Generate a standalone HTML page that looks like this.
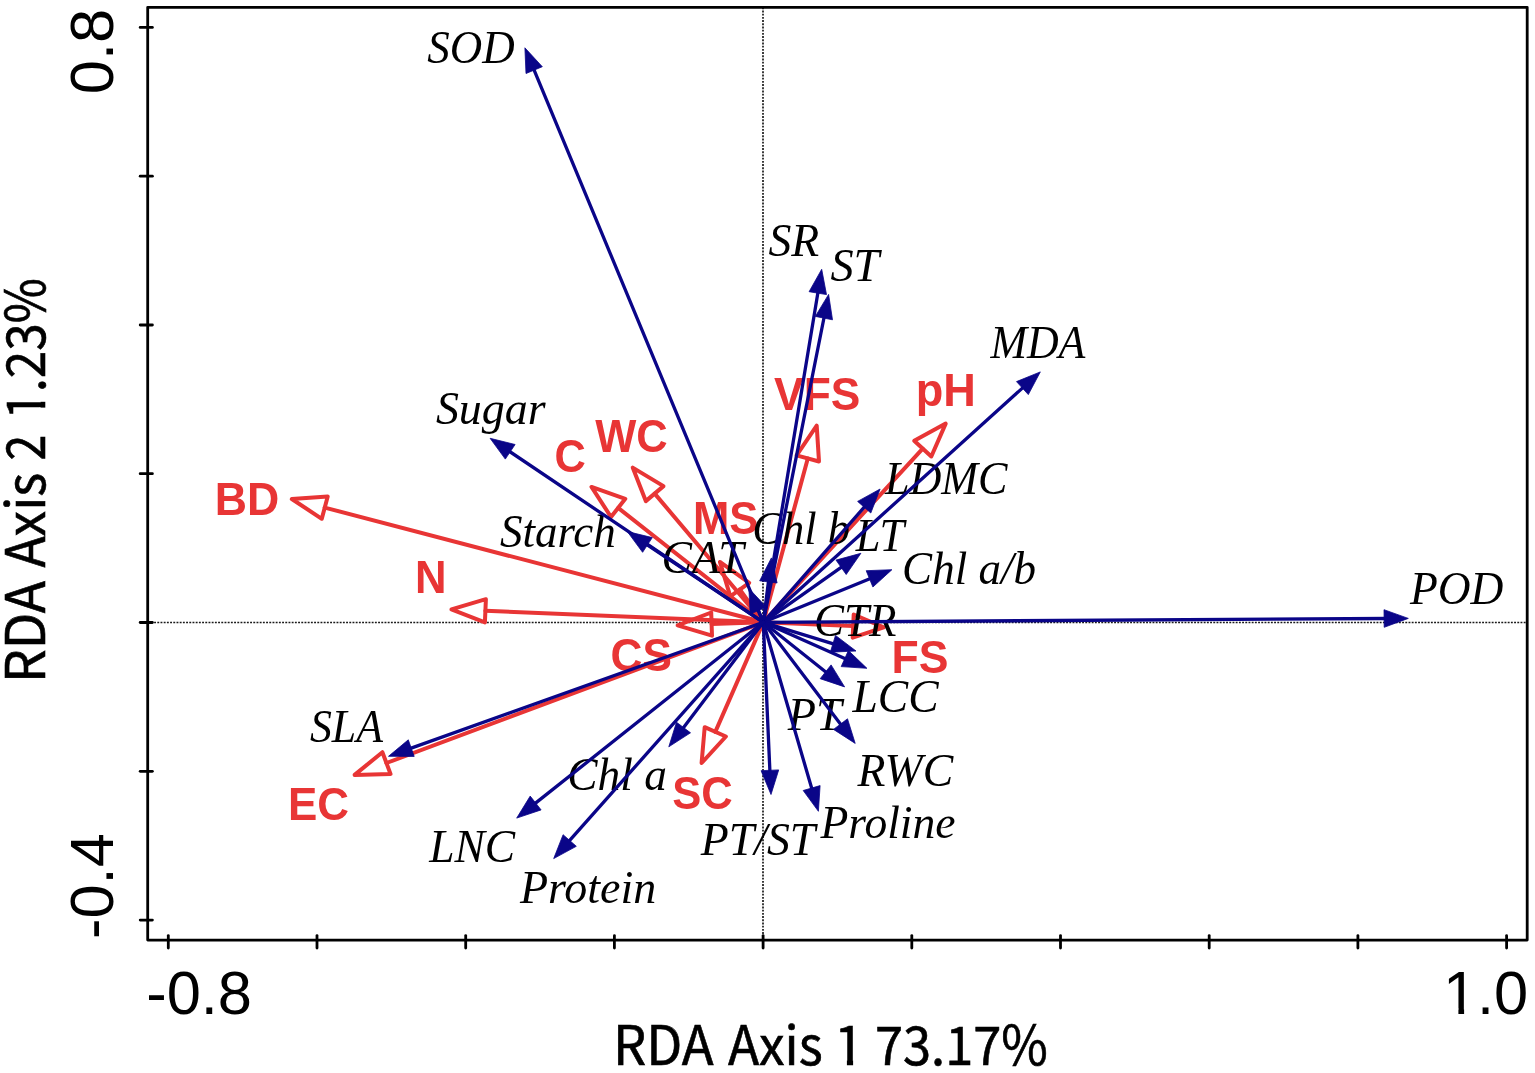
<!DOCTYPE html>
<html><head><meta charset="utf-8"><title>RDA biplot</title>
<style>html,body{margin:0;padding:0;background:#fff;}svg{display:block;}</style>
</head><body>
<svg width="1535" height="1073" viewBox="0 0 1535 1073">
<rect width="1535" height="1073" fill="#fff"/>
<g stroke="#1a1a1a" stroke-width="1.7" stroke-dasharray="1.9 1.3" fill="none">
<line x1="147.7" y1="622.5" x2="1527.2" y2="622.5"/>
<line x1="763.0" y1="7.3" x2="763.0" y2="940.1"/>
</g>
<g stroke="#e83535" stroke-width="4.0" stroke-linecap="round" stroke-linejoin="round" fill="none">
<line x1="763.3" y1="622.3" x2="324.7" y2="507.6"/>
<line x1="763.3" y1="622.3" x2="485.4" y2="610.8"/>
<line x1="763.3" y1="622.3" x2="618.2" y2="507.9"/>
<line x1="763.3" y1="622.3" x2="654.7" y2="493.6"/>
<line x1="763.3" y1="622.3" x2="807.8" y2="458.5"/>
<line x1="763.3" y1="622.3" x2="922.7" y2="448.6"/>
<line x1="763.3" y1="622.3" x2="739.8" y2="589.5"/>
<line x1="763.3" y1="622.3" x2="711.6" y2="624.1"/>
<line x1="763.3" y1="622.3" x2="853.2" y2="626.1"/>
<line x1="763.3" y1="622.3" x2="386.4" y2="763.0"/>
<line x1="763.3" y1="622.3" x2="715.3" y2="731.9"/>
<polygon points="291.8,499.0 327.7,496.4 321.8,518.8"/>
<polygon points="451.4,609.4 485.9,599.2 484.9,622.4"/>
<polygon points="591.5,486.9 625.3,498.8 611.0,517.0"/>
<polygon points="632.7,467.6 663.5,486.1 645.8,501.1"/>
<polygon points="816.7,425.6 819.0,461.5 796.6,455.4"/>
<polygon points="945.7,423.6 931.3,456.5 914.2,440.8"/>
<polygon points="719.9,561.9 749.2,582.8 730.3,596.3"/>
<polygon points="677.6,625.3 711.2,612.5 712.0,635.7"/>
<polygon points="883.7,627.4 852.7,637.7 853.7,614.5"/>
<polygon points="354.6,774.9 382.4,752.2 390.5,773.9"/>
<polygon points="701.6,763.0 704.7,727.2 725.9,736.5"/>
</g>
<g fill="#e83535" font-family="'Liberation Sans', Arial, sans-serif" font-weight="bold" font-size="46.5">
<text transform="translate(214.7,514.5) scale(0.961,1)">BD</text>
<text transform="translate(415.0,593.2) scale(0.939,1)">N</text>
<text transform="translate(554.4,471.5) scale(0.933,1)">C</text>
<text transform="translate(595.3,452.0) scale(0.936,1)">WC</text>
<text transform="translate(774.1,409.7) scale(0.953,1)">VFS</text>
<text transform="translate(915.7,406.2) scale(0.970,1)">pH</text>
<text transform="translate(693.0,534.0) scale(0.938,1)">MS</text>
<text transform="translate(610.5,671.2) scale(0.951,1)">CS</text>
<text transform="translate(891.5,673.0) scale(0.958,1)">FS</text>
<text transform="translate(288.0,819.8) scale(0.945,1)">EC</text>
<text transform="translate(672.2,808.6) scale(0.937,1)">SC</text>
</g>
<g fill="#000" font-family="'Liberation Serif', 'Times New Roman', serif" font-style="italic" font-size="47.0">
<text transform="translate(427.3,63.4) scale(0.956,1)">SOD</text>
<text transform="translate(768.4,256.1) scale(0.972,1)">SR</text>
<text transform="translate(830.4,280.9) scale(0.984,1)">ST</text>
<text transform="translate(990.4,358.0) scale(0.933,1)">MDA</text>
<text transform="translate(435.9,423.9) scale(0.977,1)">Sugar</text>
<text transform="translate(500.0,546.8) scale(0.958,1)">Starch</text>
<text transform="translate(661.5,573.4) scale(0.973,1)">CAT</text>
<text transform="translate(752.2,543.9) scale(0.948,1)">Chl b</text>
<text transform="translate(884.9,493.8) scale(0.939,1)">LDMC</text>
<text transform="translate(855.8,551.2) scale(0.944,1)">LT</text>
<text transform="translate(902.1,584.0) scale(0.959,1)">Chl a/b</text>
<text transform="translate(1409.9,603.9) scale(0.968,1)">POD</text>
<text transform="translate(814.1,636.2) scale(0.956,1)">CTR</text>
<text transform="translate(852.5,711.9) scale(0.969,1)">LCC</text>
<text transform="translate(787.8,730.0) scale(0.983,1)">PT</text>
<text transform="translate(857.4,785.5) scale(0.974,1)">RWC</text>
<text transform="translate(820.5,837.7) scale(0.970,1)">Proline</text>
<text transform="translate(700.8,854.7) scale(0.974,1)">PT/ST</text>
<text transform="translate(567.3,789.6) scale(0.965,1)">Chl a</text>
<text transform="translate(520.0,902.5) scale(0.978,1)">Protein</text>
<text transform="translate(429.2,861.8) scale(0.968,1)">LNC</text>
<text transform="translate(309.9,741.9) scale(0.932,1)">SLA</text>
</g>
<g stroke="#0a0588" stroke-width="3.3" stroke-linecap="round" fill="#0a0588" stroke-linejoin="round">
<line x1="763.3" y1="622.3" x2="533.0" y2="67.4"/>
<line x1="763.3" y1="622.3" x2="818.3" y2="290.2"/>
<line x1="763.3" y1="622.3" x2="824.5" y2="315.2"/>
<line x1="763.3" y1="622.3" x2="1024.6" y2="386.1"/>
<line x1="763.3" y1="622.3" x2="507.7" y2="450.2"/>
<line x1="763.3" y1="622.3" x2="866.2" y2="504.9"/>
<line x1="763.3" y1="622.3" x2="645.0" y2="543.3"/>
<line x1="763.3" y1="622.3" x2="757.2" y2="607.9"/>
<line x1="763.3" y1="622.3" x2="768.8" y2="578.9"/>
<line x1="763.3" y1="622.3" x2="843.6" y2="565.6"/>
<line x1="763.3" y1="622.3" x2="872.3" y2="577.7"/>
<line x1="763.3" y1="622.3" x2="1387.1" y2="618.5"/>
<line x1="763.3" y1="622.3" x2="835.8" y2="644.7"/>
<line x1="763.3" y1="622.3" x2="847.6" y2="659.7"/>
<line x1="763.3" y1="622.3" x2="828.0" y2="673.7"/>
<line x1="763.3" y1="622.3" x2="842.3" y2="726.5"/>
<line x1="763.3" y1="622.3" x2="770.0" y2="773.3"/>
<line x1="763.3" y1="622.3" x2="812.5" y2="791.0"/>
<line x1="763.3" y1="622.3" x2="681.7" y2="729.9"/>
<line x1="763.3" y1="622.3" x2="567.7" y2="842.7"/>
<line x1="763.3" y1="622.3" x2="533.3" y2="804.9"/>
<line x1="763.3" y1="622.3" x2="408.4" y2="749.1"/>
</g>
<g fill="#0a0588" stroke="#0a0588" stroke-width="0.8" stroke-linejoin="round">
<polygon points="524.9,47.8 542.3,66.7 526.0,73.5"/>
<polygon points="821.7,269.3 826.5,294.6 809.1,291.7"/>
<polygon points="828.6,294.4 832.5,319.8 815.3,316.4"/>
<polygon points="1040.3,371.9 1028.3,394.6 1016.5,381.6"/>
<polygon points="490.1,438.3 515.1,444.5 505.3,459.1"/>
<polygon points="880.1,489.0 870.8,513.0 857.6,501.4"/>
<polygon points="627.3,531.5 652.3,537.6 642.6,552.3"/>
<polygon points="748.9,588.4 766.4,607.2 750.2,614.1"/>
<polygon points="771.4,557.9 777.1,583.0 759.7,580.8"/>
<polygon points="860.9,553.3 846.2,574.5 836.0,560.1"/>
<polygon points="891.9,569.7 872.9,587.0 866.2,570.7"/>
<polygon points="1408.3,618.4 1384.2,627.3 1384.0,609.7"/>
<polygon points="856.0,651.0 830.3,652.2 835.5,635.4"/>
<polygon points="866.9,668.3 841.2,666.6 848.4,650.5"/>
<polygon points="844.6,686.9 820.2,678.7 831.1,664.9"/>
<polygon points="855.2,743.4 833.5,729.4 847.5,718.8"/>
<polygon points="771.0,794.5 761.1,770.7 778.7,769.9"/>
<polygon points="818.4,811.3 803.2,790.5 820.1,785.6"/>
<polygon points="668.8,746.8 676.5,722.2 690.5,732.8"/>
<polygon points="553.7,858.6 563.1,834.7 576.3,846.3"/>
<polygon points="516.7,818.1 530.2,796.1 541.1,809.9"/>
<polygon points="388.5,756.3 408.3,739.8 414.2,756.4"/>
</g>
<g stroke="#000" stroke-width="2.8" fill="none" stroke-linecap="round" stroke-linejoin="round">
<rect x="147.7" y="7.3" width="1379.5" height="932.8"/>
<line x1="168.3" y1="935.6" x2="168.3" y2="948.0"/>
<line x1="317.0" y1="935.6" x2="317.0" y2="948.0"/>
<line x1="465.7" y1="935.6" x2="465.7" y2="948.0"/>
<line x1="614.4" y1="935.6" x2="614.4" y2="948.0"/>
<line x1="763.1" y1="935.6" x2="763.1" y2="948.0"/>
<line x1="911.8" y1="935.6" x2="911.8" y2="948.0"/>
<line x1="1060.5" y1="935.6" x2="1060.5" y2="948.0"/>
<line x1="1209.2" y1="935.6" x2="1209.2" y2="948.0"/>
<line x1="1357.9" y1="935.6" x2="1357.9" y2="948.0"/>
<line x1="1506.6" y1="935.6" x2="1506.6" y2="948.0"/>
<line x1="140.2" y1="27.4" x2="152.4" y2="27.4"/>
<line x1="140.2" y1="176.2" x2="152.4" y2="176.2"/>
<line x1="140.2" y1="325.0" x2="152.4" y2="325.0"/>
<line x1="140.2" y1="473.7" x2="152.4" y2="473.7"/>
<line x1="140.2" y1="622.5" x2="152.4" y2="622.5"/>
<line x1="140.2" y1="771.3" x2="152.4" y2="771.3"/>
<line x1="140.2" y1="920.1" x2="152.4" y2="920.1"/>
</g>
<g fill="#000" font-family="'Liberation Sans', Arial, sans-serif" font-size="61.4">
<text transform="translate(113.2,94.2) rotate(-90)">0.8</text>
<text transform="translate(112.6,939.0) rotate(-90)">-0.4</text>
<text x="146.2" y="1013.8">-0.8</text>
<text x="1442.9" y="1013.7">1.0</text>
</g>

<g fill="#000" stroke="#000" stroke-width="0.6" font-family="'Noto Sans CJK SC', 'Liberation Sans', sans-serif" font-size="54.0">
<text transform="translate(613.0,1065.2) scale(0.9704,1)">RDA</text>
<text transform="translate(728.0,1065.2) scale(0.9510,1)">Axis</text>
<text transform="translate(834.0,1065.2) scale(1.0000,1)">1</text>
<text transform="translate(875.0,1065.2) scale(0.9367,1)">73.17%</text>
<text transform="translate(45.0,682.9) rotate(-90) scale(0.9827,1)">RDA</text>
<text transform="translate(45.0,567.4) rotate(-90) scale(0.9510,1)">Axis</text>
<text transform="translate(45.0,460.5) rotate(-90) scale(0.8600,1)">2</text>
<text transform="translate(45.0,419.4) rotate(-90) scale(0.9155,1)">1.23%</text>

</g>
<g fill="#fff">
<rect x="1445.5" y="1008.5" width="12.9" height="6"/>
<rect x="1464.1" y="1008.5" width="11.5" height="6"/>
<rect x="837.0" y="1059.4" width="9.9" height="6.6"/>
<rect x="853.1" y="1059.4" width="9.4" height="6.6"/>
<rect x="39.4" y="394.0" width="7.4" height="7.8"/>
<rect x="39.4" y="407.6" width="7.4" height="8.4"/>
</g>
</svg>
</body></html>
